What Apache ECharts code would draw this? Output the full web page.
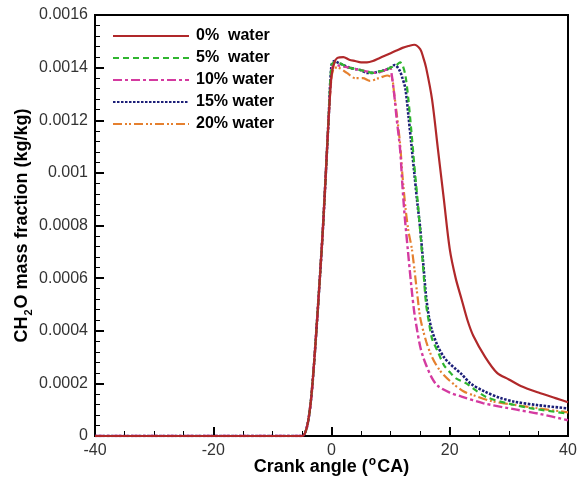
<!DOCTYPE html>
<html>
<head>
<meta charset="utf-8">
<script src="https://cdn.jsdelivr.net/npm/echarts@6/dist/echarts.min.js"></script>
<style>
  html, body { margin: 0; padding: 0; background: #fff; }
  #chart { width: 579px; height: 479px; }
</style>
</head>
<body>
<div id="chart"></div>
<script>
// y ticks
const yTicks = ['0', '0.0002', '0.0004', '0.0006', '0.0008', '0.001', '0.0012', '0.0014', '0.0016'];

// rise part shared by all cases
const riseX = [-40, -5, -4.5, -4, -3.5, -3, -2.5, -2, -1.5, -1, -0.5];
const riseY = [0, 0, 0.00001, 0.00005, 0.00013, 0.00026, 0.00042, 0.00059, 0.00077, 0.00098, 0.0012];

// 0% water
const w0X = [0, 0.5, 1, 2, 3, 4, 5, 6, 7, 8, 9, 10, 11, 12, 13, 14, 15, 15.5, 16, 17, 18, 19, 20, 21, 22, 23, 24, 26, 28, 30, 32, 35, 38, 40];
const w0Y = [0.00137, 0.00142, 0.001437, 0.00144, 0.00143, 0.001425, 0.00142, 0.00142, 0.001425, 0.001435, 0.001445, 0.001455,
  0.001465, 0.001475, 0.001482, 0.001487, 0.00147, 0.00144, 0.0014, 0.00128, 0.00109, 0.0009, 0.00071, 0.0006, 0.00052,
  0.00044, 0.00038, 0.0003, 0.00024, 0.000215, 0.00019, 0.000165, 0.000143, 0.000128];

// 5% water
const w5X = [0, 0.5, 1, 2, 3, 4, 5, 6, 7, 8, 9, 10, 11, 11.6, 12, 12.5, 13, 13.5, 14, 14.5, 15, 15.5, 16, 16.5, 17, 18, 19, 20, 21, 22.8, 24, 26.2, 29.6, 33.6, 40];
const w5Y = [0.00141, 0.00142, 0.00142, 0.00141, 0.0014, 0.001395, 0.00139, 0.001385, 0.00138, 0.001385, 0.00139, 0.0014,
  0.00141, 0.00142, 0.00141, 0.00137, 0.00128, 0.00116, 0.00103, 0.00091, 0.00078, 0.00064, 0.0005, 0.00043, 0.00037,
  0.00032, 0.00027, 0.000243, 0.00022, 0.0002, 0.00018, 0.000148, 0.000125, 0.000106, 0.000085];

// 10% water
const w10X = [0, 0.5, 1, 3, 5, 7.7, 9, 9.9, 10.2, 10.6, 11, 11.6, 12, 12.4, 12.9, 13.5, 14, 14.5, 15, 15.5, 16, 17, 18, 20, 22, 25.6, 31.3, 35, 40];
const w10Y = [0.00138, 0.00142, 0.00141, 0.0014, 0.00139, 0.00138, 0.00139, 0.0014, 0.00137, 0.0013, 0.00121, 0.00109,
  0.00095, 0.00083, 0.00071, 0.00057, 0.00047, 0.0004, 0.00034, 0.0003, 0.00027, 0.00022, 0.00019, 0.000165, 0.00015,
  0.000125, 0.0001, 0.000085, 0.00006];

// 15% water
const w15X = [0, 0.5, 1, 2, 3, 4, 5, 6, 7, 8, 9, 10, 10.7, 11.5, 12, 12.5, 13, 13.5, 14, 14.5, 15, 15.5, 16, 16.5, 17, 18, 19, 20, 21, 22, 23.5, 26, 28.5, 31, 35, 40];
const w15Y = [0.00141, 0.001425, 0.00142, 0.00141, 0.0014, 0.001395, 0.00139, 0.00138, 0.00138, 0.001385, 0.00139, 0.0014,
  0.00141, 0.00139, 0.00136, 0.00132, 0.00122, 0.00111, 0.001, 0.00089, 0.00079, 0.00066, 0.00053, 0.00045, 0.0004,
  0.00034, 0.0003, 0.000275, 0.000255, 0.000235, 0.0002, 0.000168, 0.000145, 0.00013, 0.000117, 0.000105];

// 20% water
const w20X = [0, 0.5, 1, 2.6, 4, 5.3, 6.5, 8, 9.4, 10.2, 10.6, 11, 11.6, 12, 12.5, 13, 13.6, 14.6, 15, 16, 17, 18.3, 20, 22.3, 24, 27, 31, 35, 40];
const w20Y = [0.00136, 0.0014, 0.0014, 0.00138, 0.00136, 0.00136, 0.00135, 0.00136, 0.00137, 0.00136, 0.0013, 0.00123,
  0.00111, 0.00099, 0.00087, 0.00078, 0.00071, 0.00052, 0.00045, 0.00036, 0.0003, 0.00025, 0.00021, 0.00017, 0.000155,
  0.000133, 0.000118, 0.000105, 0.00009];

const names = ['0%  water', '5%  water', '10% water', '15% water', '20% water'];
const colors = ['#b0282a', '#2fb52f', '#d43aa0', '#1c1f78', '#e5802f'];
const dashes = ['solid', [6, 4], [9, 3, 3, 3], [2.5, 1.5], [9, 3, 2, 2, 2, 3]];
const widths = [2.2, 2.2, 2.4, 2.6, 2.2];

function pts(xs, ys) {
  const a = riseX.map((x, i) => [x, riseY[i]]);
  return a.concat(xs.map((x, i) => [x, ys[i]]));
}

const lines = [pts(w0X, w0Y), pts(w5X, w5Y), pts(w10X, w10Y), pts(w15X, w15Y), pts(w20X, w20Y)];

const chart = echarts.init(document.getElementById('chart'));
const font = 'Liberation Sans, Arial, sans-serif';

chart.setOption({
  animation: false,
  backgroundColor: '#fff',
  grid: {
    left: 95, right: 11, top: 15, bottom: 43,
    outerBoundsMode: 'none',
    show: true, borderColor: '#000', borderWidth: 2
  },
  legend: {
    data: names,
    orient: 'vertical',
    left: 107, top: 23,
    itemWidth: 76, itemHeight: 14, itemGap: 6,
    itemStyle: { opacity: 0 },
    textStyle: { fontFamily: font, fontSize: 16, fontWeight: 'bold', color: '#000', padding: [0, 0, 0, 2] }
  },
  xAxis: {
    type: 'value', min: -40, max: 40, interval: 20,
    name: '{b|Crank angle (}{sup|o}{b|CA)}',
    nameLocation: 'middle', nameGap: 20,
    nameMoveOverlap: false,
    nameTextStyle: {
      rich: {
        b: { fontFamily: font, fontSize: 18, fontWeight: 'bold', color: '#000', lineHeight: 22 },
        sup: { fontFamily: font, fontSize: 12, fontWeight: 'bold', color: '#000', lineHeight: 22, verticalAlign: 'top', padding: [0, 1, 0, 1] }
      }
    },
    axisLine: { onZero: false, lineStyle: { color: '#000', width: 2 } },
    axisTick: { inside: true, length: 9, lineStyle: { color: '#000', width: 2 } },
    minorTick: { show: true, splitNumber: 4, length: 5, lineStyle: { color: '#000', width: 1 } },
    axisLabel: { fontFamily: font, fontSize: 16, color: '#333', margin: 7 },
    splitLine: { show: false }
  },
  yAxis: {
    type: 'value', min: 0, max: 0.0016, interval: 0.0002,
    name: '{b|CH}{sub|2}{b|O mass fraction (kg/kg)}',
    nameLocation: 'middle', nameGap: 61,
    nameMoveOverlap: false,
    nameTextStyle: {
      rich: {
        b: { fontFamily: font, fontSize: 18, fontWeight: 'bold', color: '#000', lineHeight: 24 },
        sub: { fontFamily: font, fontSize: 11, fontWeight: 'bold', color: '#000', lineHeight: 24, verticalAlign: 'bottom', padding: [0, 1, 0, 1] }
      }
    },
    axisLine: { onZero: false, lineStyle: { color: '#000', width: 2 } },
    axisTick: { inside: true, length: 9, lineStyle: { color: '#000', width: 2 } },
    minorTick: { show: true, splitNumber: 5, length: 5, lineStyle: { color: '#000', width: 1 } },
    axisLabel: {
      fontFamily: font, fontSize: 16, color: '#333', margin: 7,
      formatter: v => yTicks[Math.round(v / 0.0002)]
    },
    splitLine: { show: false }
  },
  series: names.map((n, i) => ({
    name: n,
    type: 'line',
    data: lines[i],
    symbol: 'none',
    smooth: 0.3,
    z: 10 - i,
    color: colors[i],
    lineStyle: { color: colors[i], width: widths[i], type: dashes[i] }
  }))
});
</script>
</body>
</html>
